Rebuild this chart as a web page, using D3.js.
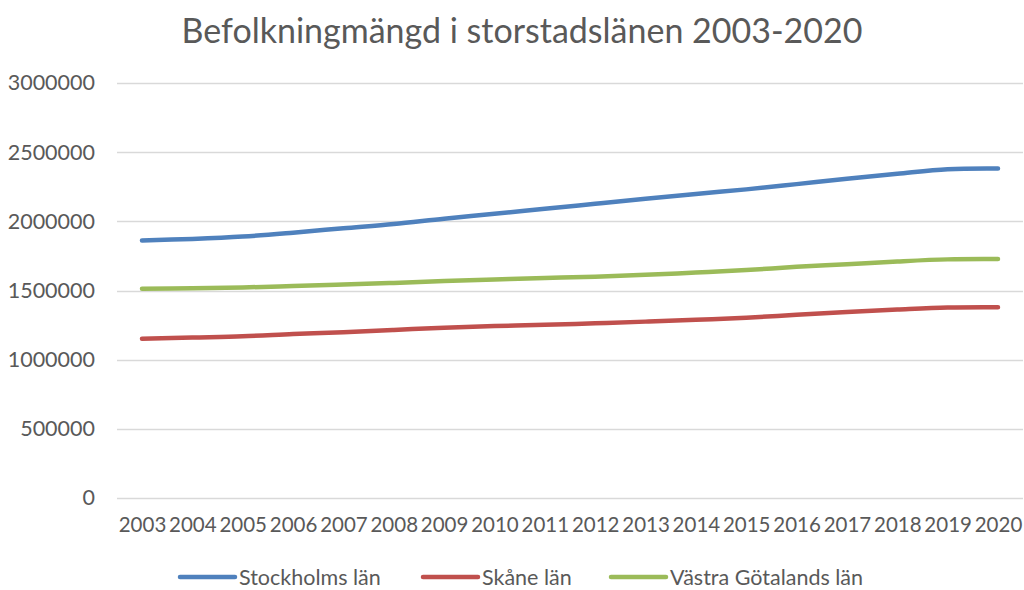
<!DOCTYPE html>
<html><head><meta charset="utf-8">
<script src="https://cdn.jsdelivr.net/npm/d3@7"></script>
<style>body{margin:0;background:#fff;font-family:Lato,"Open Sans",sans-serif;}</style>
</head><body><svg id="c" width="1024" height="590"></svg>
<script>
const years = ["2003","2004","2005","2006","2007","2008","2009","2010","2011","2012","2013","2014","2015","2016","2017","2018","2019","2020"];
const stockholm = [1862000,1873000,1890000,1918000,1950000,1981000,2019000,2054000,2091000,2127000,2163000,2198000,2231000,2269000,2308000,2344000,2377000,2382000];
const skane = [1151000,1160000,1169000,1185000,1199000,1215000,1231000,1243000,1252000,1263000,1275000,1288000,1303000,1324000,1344000,1362000,1377000,1379000];
const vastra = [1512000,1516000,1522000,1532000,1543000,1555000,1568000,1580000,1590000,1600000,1613000,1630000,1648000,1671000,1690000,1710000,1725000,1727000];
const seriesNames = ["Stockholms län","Skåne län","Västra Götalands län"];
const colors = ["#4F81BD","#C0504D","#9BBB59"];
const yTicks = [0,500000,1000000,1500000,2000000,2500000,3000000];
const title = "Befolkningmängd i storstadslänen 2003-2020";

const svg = d3.select("#c");
const txt = "#595959";
const x = d3.scalePoint().domain(years).range([142,998]);
const y = d3.scaleLinear().domain([0,3000000]).range([498,83]);

svg.append("text").attr("x",522).attr("y",43).attr("text-anchor","middle")
  .attr("fill",txt).attr("font-size",34).text(title);

const grid = svg.append("g");
grid.selectAll("line").data(yTicks).join("line")
  .attr("x1",117).attr("x2",1023)
  .attr("y1",d=>Math.round(y(d))+0.5).attr("y2",d=>Math.round(y(d))+0.5)
  .attr("stroke","#d9d9d9").attr("stroke-width",1.5);

const yAxis = d3.axisLeft(y).tickValues(yTicks).tickFormat(d3.format("d")).tickSize(0).tickPadding(0);
const ga = svg.append("g").attr("transform","translate(95,0)").call(yAxis);
ga.select(".domain").remove();
ga.selectAll("text").attr("fill",txt).attr("font-size",21.5).attr("font-family","Lato");

const xAxis = d3.axisBottom(x).tickSize(0).tickPadding(0);
const gx = svg.append("g").attr("transform","translate(0,517)").call(xAxis);
gx.select(".domain").remove();
gx.selectAll("text").attr("fill",txt).attr("font-size",20.5).attr("font-family","Lato").attr("dy","0.71em");

const line = d3.line().x((d,i)=>x(years[i])).y(d=>y(d)).curve(d3.curveCatmullRom.alpha(0.5));
const data = [stockholm,skane,vastra];
svg.append("g").selectAll("path").data(data).join("path")
  .attr("d",line).attr("fill","none").attr("stroke",(d,i)=>colors[i])
  .attr("stroke-width",4.5).attr("stroke-linecap","round");

const legX = [180,423,611];
const lg = svg.append("g").selectAll("g").data(seriesNames).join("g")
  .attr("transform",(d,i)=>`translate(${legX[i]},577)`);
lg.append("line").attr("x1",0).attr("x2",55).attr("stroke",(d,i)=>colors[i])
  .attr("stroke-width",4.5).attr("stroke-linecap","round");
lg.append("text").attr("x",59).attr("dy","0.35em").attr("fill",txt).attr("font-size",21.5).text(d=>d);
</script></body></html>
